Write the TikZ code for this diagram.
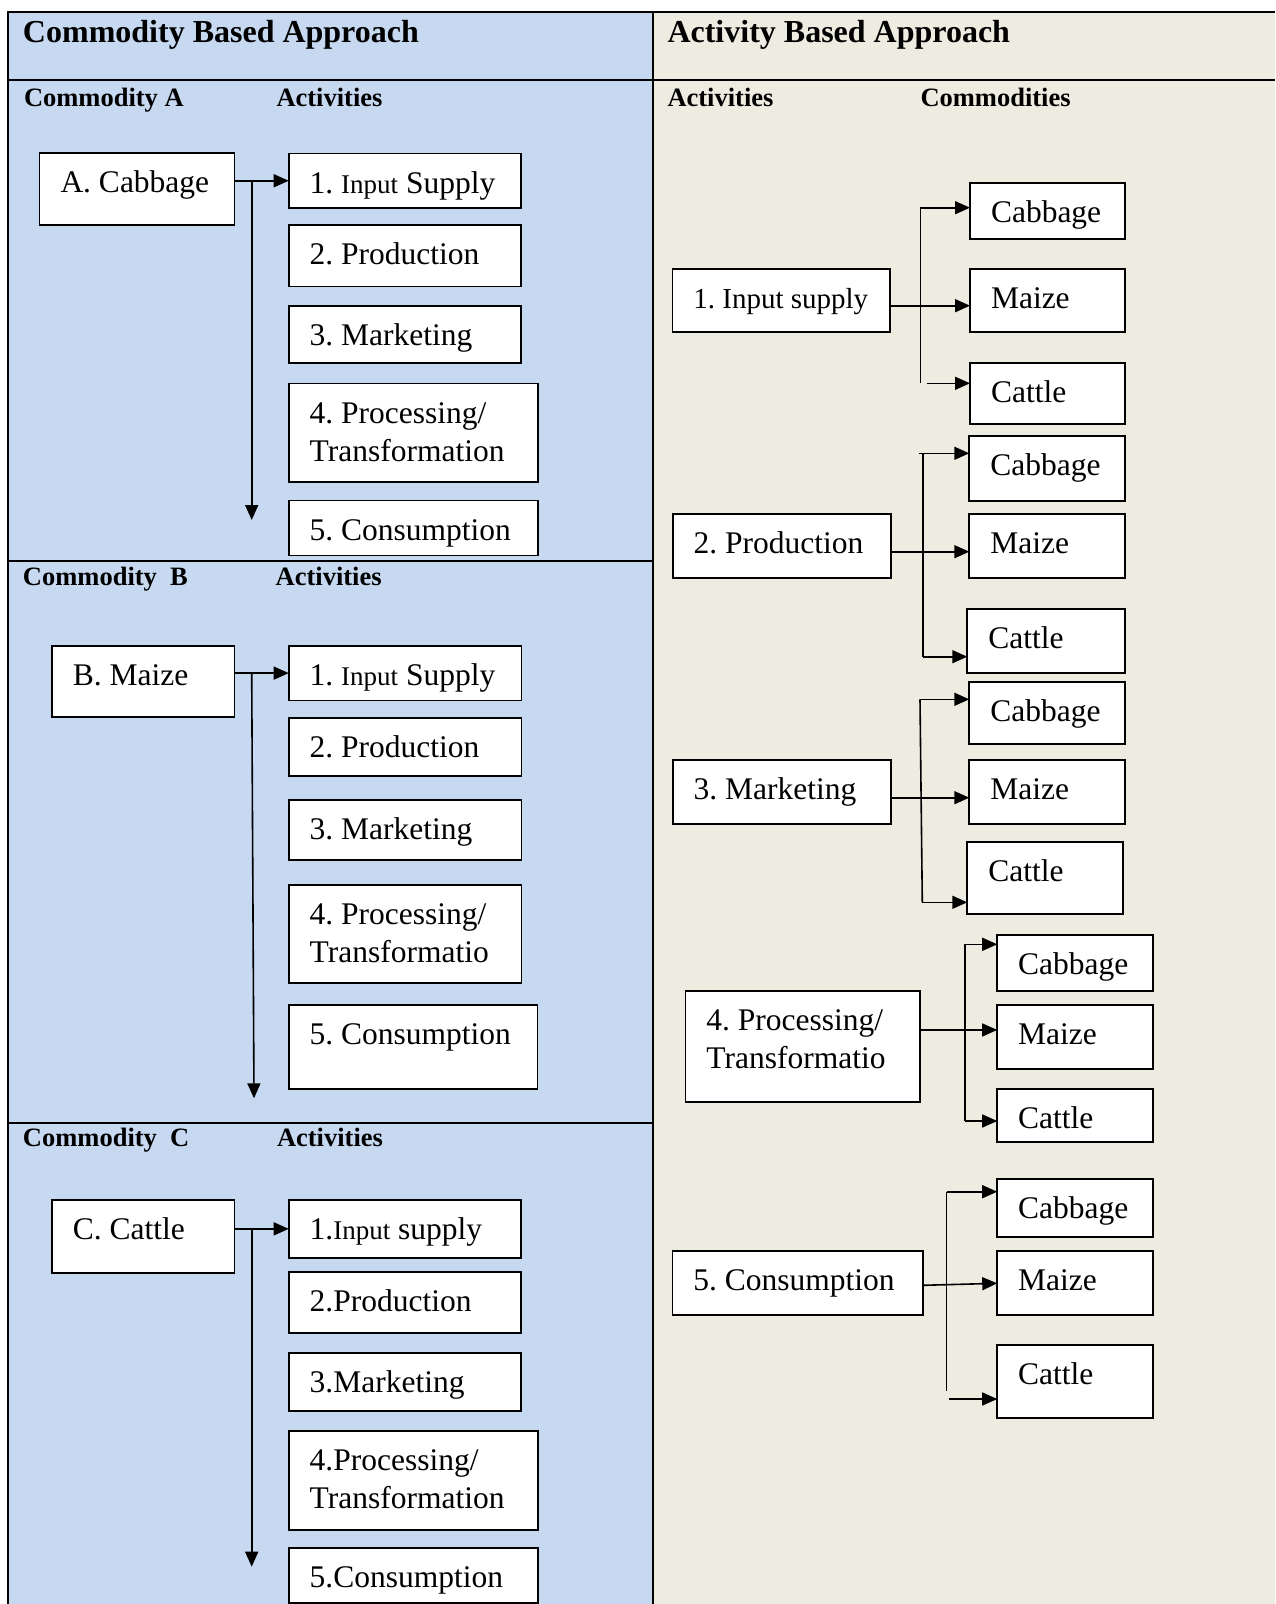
\documentclass[tikz,border=0pt]{standalone}
\usepackage{fontspec}
\setmainfont{Liberation Serif}
\usetikzlibrary{arrows.meta,calc}
\frenchspacing

\definecolor{panelblue}{HTML}{C6D9F1}
\definecolor{paneltan}{HTML}{EEECE1}

\tikzset{
  box/.style={rectangle, draw=black, line width=1.8pt, fill=white, inner sep=0pt, outer sep=0pt},
  lbl/.style={inner sep=0pt, outer sep=0pt, anchor=base west, font=\fontsize{31.5}{38}\selectfont},
  ttl/.style={inner sep=0pt, outer sep=0pt, anchor=base west, font=\bfseries\fontsize{32}{38}\selectfont},
  sub/.style={inner sep=0pt, outer sep=0pt, anchor=base west, font=\bfseries\fontsize{26.5}{32}\selectfont},
  rule/.style={line width=2pt, black},
  link/.style={line width=1.6pt, black},
  arr/.style={link, -{Triangle[length=15pt,width=13pt]}},
}

% smaller type used for the word "Input" in some boxes
\newcommand\smallin[1]{{\fontsize{27}{30}\selectfont #1}}

% box with one line of text: name, x1, y1, x2, y2, text
\newcommand\onebox[6]{%
  \pgfmathsetmacro\bw{#4-#2}\pgfmathsetmacro\bh{#5-#3}%
  \node[box, minimum width=\bw pt, minimum height=\bh pt, anchor=north west] (#1) at (#2,#3) {};
  \node[lbl] (#1-t) at ([shift={(21pt,-39.5pt)}]#1.north west) {#6};
}
% box with two lines of text: name, x1, y1, x2, y2, line one, line two
\newcommand\twobox[7]{%
  \onebox{#1}{#2}{#3}{#4}{#5}{#6}
  \node[lbl] (#1-u) at ([yshift=-38pt]#1-t.base west) {#7};
}

\begin{document}
\begin{tikzpicture}[x=1pt,y=-1pt]
\useasboundingbox (0,0) rectangle (1275,1604);

% panels
\fill[panelblue] (8,12) rectangle (653,1604);
\fill[paneltan] (653,12) rectangle (1275,1604);

% table rules
\draw[rule] (8,1604) -- (8,12) -- (1275,12);
\draw[rule] (8,80) -- (1275,80);
\draw[rule] (653,12) -- (653,1604);
\draw[rule] (8,561) -- (653,561);
\draw[rule] (8,1122.6) -- (653,1122.6);

% headings
\node[ttl] (h-left) at (23,42) {Commodity Based Approach};
\node[ttl] (h-right) at (667.5,42) {Activity Based Approach};
\node[sub] (s-a1) at (24,106.5) {Commodity A};
\node[sub] (s-a2) at (276.5,106.5) {Activities};
\node[sub] (s-b1) at (23,585) {Commodity\ \ B};
\node[sub] (s-b2) at (275.7,585) {Activities};
\node[sub] (s-c1) at (23,1146.7) {Commodity\ \ C};
\node[sub] (s-c2) at (277,1146.7) {Activities};
\node[sub] (s-r1) at (667.5,106) {Activities};
\node[sub] (s-r2) at (920.5,106) {Commodities};

% ---------- commodity A ----------
\onebox{cabA}{39.5}{153}{234.5}{225}{A. Cabbage}
\onebox{a1}{288.7}{153.5}{521}{208}{1. \smallin{Input} Supply}
\onebox{a2}{288.7}{225}{521}{286.5}{2. Production}
\onebox{a3}{288.7}{306}{521}{363.3}{3. Marketing}
\twobox{a4}{288.7}{383.5}{538}{482}{4. Processing/}{Transformation}
\onebox{a5}{288.7}{500.5}{538}{555.5}{5. Consumption}
\draw[arr] (cabA.east |- a1.west) -- (a1.west);
\coordinate (splitA) at (251.7,180.75);
\coordinate (endA) at (251.7,520);
\draw[arr] (splitA) -- (endA);

% ---------- commodity B ----------
\onebox{mzB}{51.8}{645.7}{234.4}{717.3}{B. Maize}
\onebox{b1}{288.7}{645.7}{521.4}{700.5}{1. \smallin{Input} Supply}
\onebox{b2}{288.7}{718}{521.4}{775.7}{2. Production}
\onebox{b3}{288.7}{800}{521.4}{860}{3. Marketing}
\twobox{b4}{288.7}{885}{521.4}{983.3}{4. Processing/}{Transformatio}
\onebox{b5}{288.7}{1005}{537.5}{1089.3}{5. Consumption}
\draw[arr] (mzB.east |- b1.west) -- (b1.west);
\coordinate (splitB) at (251.7,673.1);
\coordinate (endB) at (254,1098.3);
\draw[arr] (splitB) -- (endB);

% ---------- commodity C ----------
\onebox{catC}{51.8}{1200}{234.4}{1272.7}{C. Cattle}
\onebox{c1}{288.7}{1200}{521}{1257.7}{1.\smallin{Input} supply}
\onebox{c2}{288.7}{1272.3}{521}{1333.3}{2.Production}
\onebox{c3}{288.7}{1353.3}{521}{1411}{3.Marketing}
\twobox{c4}{288.7}{1431}{538}{1530}{4.Processing/}{Transformation}
\onebox{c5}{288.7}{1547.7}{538}{1602.7}{5.Consumption}
\draw[arr] (catC.east |- c1.west) -- (c1.west);
\coordinate (splitC) at (251.7,1228.8);
\coordinate (endC) at (251.7,1566.7);
\draw[arr] (splitC) -- (endC);

% ---------- activity 1 ----------
\onebox{r1}{672.4}{268.7}{890.3}{332.3}{\fontsize{29}{34}\selectfont 1. Input supply}
\onebox{g1cab}{970}{182.7}{1124.8}{239}{Cabbage}
\onebox{g1mz}{970}{268.7}{1124.8}{332.3}{Maize}
\onebox{g1cat}{970}{363.3}{1124.8}{424}{Cattle}
\coordinate (g1top) at (920.3,207.7);
\coordinate (g1bot) at (920.3,383.3);
\coordinate (g1low) at (926.7,383.3);
\draw[link] (g1top) -- (g1bot);
\draw[arr] (g1top) -- (g1top -| g1cab.west);
\draw[arr] (g1low) -- (g1low -| g1cat.west);
\draw[arr] ([yshift=-5.2pt]r1.east) -- ([yshift=-5.2pt]g1mz.west);

% ---------- activity 2 ----------
\onebox{r2}{672.7}{514.3}{890.7}{577.7}{2. Production}
\onebox{g2cab}{969.3}{435.7}{1125}{500.7}{Cabbage}
\onebox{g2mz}{969.3}{514.3}{1125}{577.7}{Maize}
\onebox{g2cat}{967.3}{609.3}{1125}{673.3}{Cattle}
\coordinate (g2top) at (919.3,453.3);
\coordinate (g2up) at (922.7,453.3);
\coordinate (g2bot) at (922.7,656.7);
\draw[link] (g2up) -- (g2bot);
\draw[arr] (g2top) -- (g2top -| g2cab.west);
\draw[arr] (g2bot) -- (g2bot -| g2cat.west);
\draw[arr] ([yshift=-5.7pt]r2.east) -- ([yshift=-5.7pt]g2mz.west);

% ---------- activity 3 ----------
\onebox{r3}{672.7}{760}{890.7}{824}{3. Marketing}
\onebox{g3cab}{969.3}{681.7}{1125}{744}{Cabbage}
\onebox{g3mz}{969.3}{760}{1125}{824}{Maize}
\onebox{g3cat}{967.3}{842.3}{1122.7}{914.3}{Cattle}
\coordinate (g3top) at (920,699.3);
\coordinate (g3bot) at (922.3,902.3);
\draw[link] (g3top) -- (g3bot);
\draw[arr] (g3top) -- (g3top -| g3cab.west);
\draw[arr] (g3bot) -- (g3bot -| g3cat.west);
\draw[arr] ([yshift=-5.7pt]r3.east) -- ([yshift=-5.7pt]g3mz.west);

% ---------- activity 4 ----------
\twobox{r4}{685.4}{990.7}{920.3}{1102.3}{4. Processing/}{Transformatio}
\onebox{g4cab}{997.2}{934.7}{1152.8}{990.7}{Cabbage}
\onebox{g4mz}{997.2}{1005.3}{1152.8}{1069}{Maize}
\onebox{g4cat}{997.2}{1089.3}{1152.8}{1141.7}{Cattle}
\coordinate (g4top) at (964.8,944.3);
\coordinate (g4bot) at (964.8,1121);
\draw[link] (g4top) -- (g4bot);
\draw[arr] (g4top) -- (g4top -| g4cab.west);
\draw[arr] (g4bot) -- (g4bot -| g4cat.west);
\draw[arr] ([yshift=16.5pt]r4.east) -- ([yshift=7.2pt]g4mz.west);

% ---------- activity 5 ----------
\onebox{r5}{672.4}{1250.7}{922.7}{1314.7}{5. Consumption}
\onebox{g5cab}{997.2}{1178.7}{1152.8}{1236.7}{Cabbage}
\onebox{g5mz}{997.2}{1250.7}{1152.8}{1314.7}{Maize}
\onebox{g5cat}{997.2}{1344.7}{1152.8}{1418.3}{Cattle}
\coordinate (g5top) at (946.6,1191.7);
\coordinate (g5bot) at (946.6,1391);
\coordinate (g5low) at (949,1399);
\draw[link] (g5top) -- (g5bot);
\draw[arr] (g5top) -- (g5top -| g5cab.west);
\draw[arr] (g5low) -- (g5low -| g5cat.west);
\draw[arr] ([yshift=-2.6pt]r5.east) -- ([yshift=-0.6pt]g5mz.west);

\end{tikzpicture}
\end{document}
